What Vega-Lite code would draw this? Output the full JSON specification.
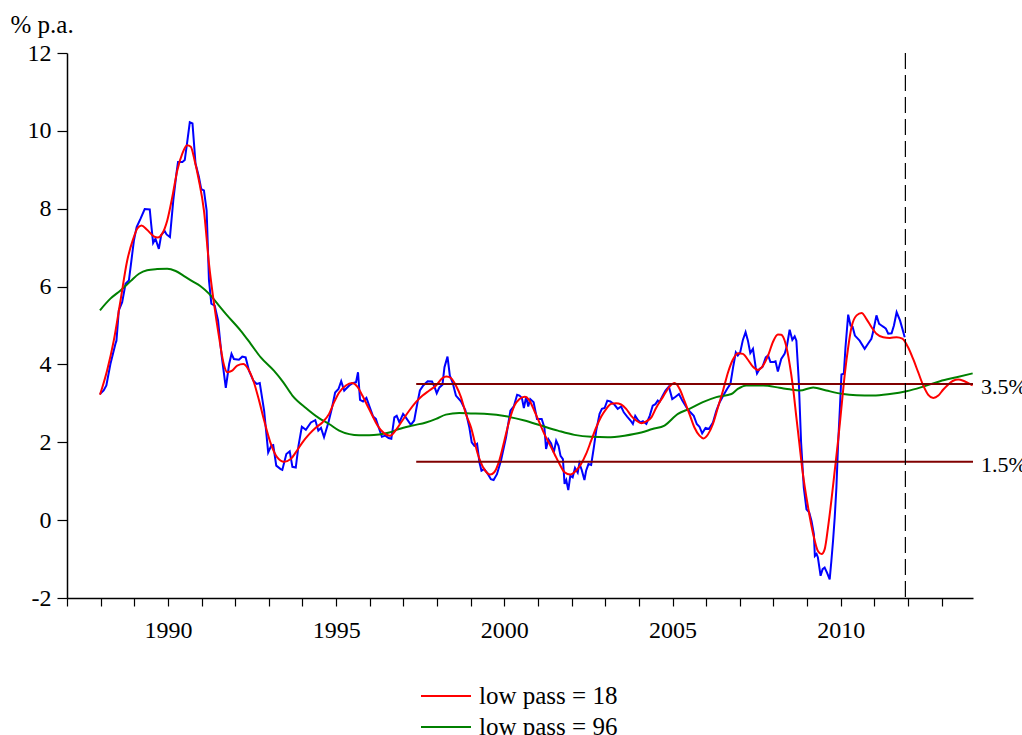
{
  "$schema": "https://vega.github.io/schema/vega-lite/v6.json",
  "width": 906,
  "height": 545,
  "autosize": "none",
  "padding": {"left": 67, "top": 53, "right": 49, "bottom": 137},
  "background": "white",
  "config": {
    "view": {"stroke": null},
    "font": "Liberation Serif",
    "axis": {"grid": false, "domainColor": "black", "tickColor": "black", "labelColor": "black", "labelFont": "Liberation Serif", "titleFont": "Liberation Serif", "domainWidth": 1.5, "tickWidth": 1.2}
  },
  "datasets": {
    "cpi": [
      {"t":1987.98,"v":3.24},{"t":1988.09,"v":3.33},{"t":1988.17,"v":3.46},{"t":1988.29,"v":4.01},{"t":1988.44,"v":4.53},{"t":1988.47,"v":4.61},{"t":1988.54,"v":5.39},{"t":1988.64,"v":5.6},{"t":1988.74,"v":6.07},{"t":1988.84,"v":6.16},{"t":1988.89,"v":6.5},{"t":1988.99,"v":7.19},{"t":1989.07,"v":7.53},{"t":1989.19,"v":7.75},{"t":1989.31,"v":7.99},{"t":1989.46,"v":7.98},{"t":1989.5,"v":7.62},{"t":1989.56,"v":7.12},{"t":1989.63,"v":7.23},{"t":1989.73,"v":6.97},{"t":1989.8,"v":7.32},{"t":1989.9,"v":7.43},{"t":1989.96,"v":7.34},{"t":1990.06,"v":7.27},{"t":1990.16,"v":8.22},{"t":1990.26,"v":8.95},{"t":1990.3,"v":9.2},{"t":1990.43,"v":9.2},{"t":1990.5,"v":9.25},{"t":1990.56,"v":9.63},{"t":1990.65,"v":10.22},{"t":1990.73,"v":10.19},{"t":1990.82,"v":9.16},{"t":1990.92,"v":8.82},{"t":1990.99,"v":8.5},{"t":1991.07,"v":8.47},{"t":1991.15,"v":7.96},{"t":1991.22,"v":6.16},{"t":1991.29,"v":5.56},{"t":1991.39,"v":5.51},{"t":1991.49,"v":5.13},{"t":1991.59,"v":4.27},{"t":1991.72,"v":3.4},{"t":1991.82,"v":4.01},{"t":1991.89,"v":4.27},{"t":1991.96,"v":4.14},{"t":1992.11,"v":4.12},{"t":1992.21,"v":4.2},{"t":1992.31,"v":4.18},{"t":1992.41,"v":3.84},{"t":1992.54,"v":3.58},{"t":1992.64,"v":3.5},{"t":1992.73,"v":3.52},{"t":1992.86,"v":2.81},{"t":1992.98,"v":1.74},{"t":1993.07,"v":1.91},{"t":1993.13,"v":1.93},{"t":1993.22,"v":1.4},{"t":1993.35,"v":1.31},{"t":1993.4,"v":1.29},{"t":1993.52,"v":1.7},{"t":1993.62,"v":1.77},{"t":1993.7,"v":1.37},{"t":1993.8,"v":1.35},{"t":1993.88,"v":1.91},{"t":1993.98,"v":2.4},{"t":1994.1,"v":2.32},{"t":1994.25,"v":2.51},{"t":1994.38,"v":2.57},{"t":1994.47,"v":2.3},{"t":1994.55,"v":2.37},{"t":1994.64,"v":2.13},{"t":1994.77,"v":2.51},{"t":1994.87,"v":2.86},{"t":1994.97,"v":3.28},{"t":1995.07,"v":3.37},{"t":1995.15,"v":3.57},{"t":1995.24,"v":3.33},{"t":1995.39,"v":3.46},{"t":1995.49,"v":3.52},{"t":1995.59,"v":3.54},{"t":1995.65,"v":3.8},{"t":1995.71,"v":3.09},{"t":1995.8,"v":3.05},{"t":1995.9,"v":3.14},{"t":1996.0,"v":2.9},{"t":1996.1,"v":2.66},{"t":1996.18,"v":2.6},{"t":1996.28,"v":2.34},{"t":1996.36,"v":2.14},{"t":1996.46,"v":2.17},{"t":1996.56,"v":2.11},{"t":1996.64,"v":2.09},{"t":1996.73,"v":2.64},{"t":1996.8,"v":2.68},{"t":1996.88,"v":2.51},{"t":1996.99,"v":2.73},{"t":1997.07,"v":2.64},{"t":1997.22,"v":2.45},{"t":1997.32,"v":2.56},{"t":1997.42,"v":3.03},{"t":1997.49,"v":3.33},{"t":1997.59,"v":3.46},{"t":1997.72,"v":3.57},{"t":1997.85,"v":3.56},{"t":1997.93,"v":3.41},{"t":1997.99,"v":3.26},{"t":1998.07,"v":3.41},{"t":1998.16,"v":3.48},{"t":1998.22,"v":3.93},{"t":1998.31,"v":4.2},{"t":1998.38,"v":3.71},{"t":1998.46,"v":3.54},{"t":1998.56,"v":3.2},{"t":1998.71,"v":3.05},{"t":1998.84,"v":2.83},{"t":1998.96,"v":2.38},{"t":1999.03,"v":2.0},{"t":1999.11,"v":1.91},{"t":1999.19,"v":1.96},{"t":1999.26,"v":1.48},{"t":1999.32,"v":1.27},{"t":1999.4,"v":1.31},{"t":1999.5,"v":1.2},{"t":1999.6,"v":1.05},{"t":1999.68,"v":1.03},{"t":1999.78,"v":1.18},{"t":1999.9,"v":1.53},{"t":2000.05,"v":2.13},{"t":2000.18,"v":2.81},{"t":2000.28,"v":2.92},{"t":2000.38,"v":3.22},{"t":2000.45,"v":3.2},{"t":2000.52,"v":3.14},{"t":2000.58,"v":2.88},{"t":2000.65,"v":3.17},{"t":2000.71,"v":2.92},{"t":2000.77,"v":3.11},{"t":2000.87,"v":3.03},{"t":2000.97,"v":2.6},{"t":2001.11,"v":2.6},{"t":2001.19,"v":2.38},{"t":2001.24,"v":1.83},{"t":2001.31,"v":2.08},{"t":2001.39,"v":1.97},{"t":2001.47,"v":1.74},{"t":2001.54,"v":2.04},{"t":2001.61,"v":1.91},{"t":2001.67,"v":1.65},{"t":2001.74,"v":1.57},{"t":2001.79,"v":0.93},{"t":2001.84,"v":1.03},{"t":2001.9,"v":0.77},{"t":2001.96,"v":1.14},{"t":2002.03,"v":1.1},{"t":2002.1,"v":1.34},{"t":2002.18,"v":1.22},{"t":2002.23,"v":1.46},{"t":2002.3,"v":1.29},{"t":2002.38,"v":1.03},{"t":2002.43,"v":1.27},{"t":2002.5,"v":1.44},{"t":2002.58,"v":1.42},{"t":2002.66,"v":1.87},{"t":2002.73,"v":2.3},{"t":2002.83,"v":2.73},{"t":2002.9,"v":2.86},{"t":2002.98,"v":2.88},{"t":2003.06,"v":3.07},{"t":2003.15,"v":3.05},{"t":2003.27,"v":2.97},{"t":2003.37,"v":2.86},{"t":2003.47,"v":2.92},{"t":2003.55,"v":2.77},{"t":2003.65,"v":2.66},{"t":2003.75,"v":2.56},{"t":2003.82,"v":2.47},{"t":2003.89,"v":2.68},{"t":2003.97,"v":2.57},{"t":2004.05,"v":2.51},{"t":2004.12,"v":2.54},{"t":2004.22,"v":2.47},{"t":2004.32,"v":2.68},{"t":2004.41,"v":2.94},{"t":2004.49,"v":2.98},{"t":2004.56,"v":3.07},{"t":2004.61,"v":3.03},{"t":2004.71,"v":3.2},{"t":2004.79,"v":3.33},{"t":2004.89,"v":3.43},{"t":2004.99,"v":3.11},{"t":2005.09,"v":3.17},{"t":2005.19,"v":3.24},{"t":2005.29,"v":3.07},{"t":2005.41,"v":2.9},{"t":2005.53,"v":2.77},{"t":2005.63,"v":2.68},{"t":2005.72,"v":2.47},{"t":2005.8,"v":2.4},{"t":2005.88,"v":2.23},{"t":2005.98,"v":2.37},{"t":2006.08,"v":2.34},{"t":2006.2,"v":2.51},{"t":2006.3,"v":2.81},{"t":2006.4,"v":3.03},{"t":2006.52,"v":3.22},{"t":2006.62,"v":3.37},{"t":2006.72,"v":3.5},{"t":2006.8,"v":3.93},{"t":2006.88,"v":4.31},{"t":2006.94,"v":4.23},{"t":2007.01,"v":4.31},{"t":2007.09,"v":4.63},{"t":2007.17,"v":4.83},{"t":2007.24,"v":4.61},{"t":2007.31,"v":4.29},{"t":2007.39,"v":4.4},{"t":2007.47,"v":3.93},{"t":2007.51,"v":3.77},{"t":2007.59,"v":3.89},{"t":2007.67,"v":3.93},{"t":2007.77,"v":4.18},{"t":2007.84,"v":4.23},{"t":2007.91,"v":4.06},{"t":2007.98,"v":4.06},{"t":2008.06,"v":4.08},{"t":2008.13,"v":3.82},{"t":2008.23,"v":4.14},{"t":2008.33,"v":4.27},{"t":2008.4,"v":4.48},{"t":2008.48,"v":4.89},{"t":2008.56,"v":4.63},{"t":2008.63,"v":4.72},{"t":2008.68,"v":4.61},{"t":2008.75,"v":3.6},{"t":2008.82,"v":2.0},{"t":2008.9,"v":0.84},{"t":2008.98,"v":0.28},{"t":2009.06,"v":0.2},{"t":2009.13,"v":-0.02},{"t":2009.2,"v":-0.36},{"t":2009.23,"v":-0.92},{"t":2009.28,"v":-0.87},{"t":2009.32,"v":-0.96},{"t":2009.4,"v":-1.43},{"t":2009.46,"v":-1.26},{"t":2009.52,"v":-1.22},{"t":2009.59,"v":-1.35},{"t":2009.67,"v":-1.52},{"t":2009.72,"v":-1.05},{"t":2009.77,"v":-0.53},{"t":2009.82,"v":0.07},{"t":2009.87,"v":0.84},{"t":2009.92,"v":1.96},{"t":2009.97,"v":2.81},{"t":2010.02,"v":3.74},{"t":2010.09,"v":3.76},{"t":2010.14,"v":4.44},{"t":2010.22,"v":5.28},{"t":2010.29,"v":5.0},{"t":2010.35,"v":4.97},{"t":2010.42,"v":4.74},{"t":2010.56,"v":4.61},{"t":2010.71,"v":4.4},{"t":2010.81,"v":4.53},{"t":2010.91,"v":4.66},{"t":2010.96,"v":4.83},{"t":2011.06,"v":5.26},{"t":2011.14,"v":5.04},{"t":2011.21,"v":5.0},{"t":2011.28,"v":4.96},{"t":2011.34,"v":4.92},{"t":2011.41,"v":4.79},{"t":2011.51,"v":4.8},{"t":2011.58,"v":5.0},{"t":2011.66,"v":5.34},{"t":2011.76,"v":5.13},{"t":2011.83,"v":4.92},{"t":2011.9,"v":4.7}
    ],
    "lp": [
      {"s":"low pass = 96","t":1987.98,"v":5.39},{"s":"low pass = 96","t":1988.29,"v":5.69},{"s":"low pass = 96","t":1988.59,"v":5.9},{"s":"low pass = 96","t":1988.89,"v":6.14},{"s":"low pass = 96","t":1989.14,"v":6.33},{"s":"low pass = 96","t":1989.38,"v":6.42},{"s":"low pass = 96","t":1989.68,"v":6.45},{"s":"low pass = 96","t":1989.98,"v":6.46},{"s":"low pass = 96","t":1990.23,"v":6.4},{"s":"low pass = 96","t":1990.48,"v":6.27},{"s":"low pass = 96","t":1990.72,"v":6.14},{"s":"low pass = 96","t":1990.97,"v":6.01},{"s":"low pass = 96","t":1991.22,"v":5.82},{"s":"low pass = 96","t":1991.47,"v":5.56},{"s":"low pass = 96","t":1991.76,"v":5.26},{"s":"low pass = 96","t":1992.16,"v":4.87},{"s":"low pass = 96","t":1992.46,"v":4.53},{"s":"low pass = 96","t":1992.76,"v":4.18},{"s":"low pass = 96","t":1993.15,"v":3.84},{"s":"low pass = 96","t":1993.43,"v":3.54},{"s":"low pass = 96","t":1993.7,"v":3.2},{"s":"low pass = 96","t":1994.1,"v":2.88},{"s":"low pass = 96","t":1994.49,"v":2.62},{"s":"low pass = 96","t":1994.79,"v":2.47},{"s":"low pass = 96","t":1995.09,"v":2.3},{"s":"low pass = 96","t":1995.39,"v":2.21},{"s":"low pass = 96","t":1995.68,"v":2.18},{"s":"low pass = 96","t":1995.98,"v":2.18},{"s":"low pass = 96","t":1996.28,"v":2.2},{"s":"low pass = 96","t":1996.58,"v":2.25},{"s":"low pass = 96","t":1996.87,"v":2.34},{"s":"low pass = 96","t":1997.27,"v":2.43},{"s":"low pass = 96","t":1997.67,"v":2.51},{"s":"low pass = 96","t":1997.97,"v":2.6},{"s":"low pass = 96","t":1998.26,"v":2.71},{"s":"low pass = 96","t":1998.66,"v":2.75},{"s":"low pass = 96","t":1999.0,"v":2.74},{"s":"low pass = 96","t":1999.4,"v":2.73},{"s":"low pass = 96","t":2000.1,"v":2.66},{"s":"low pass = 96","t":2000.6,"v":2.56},{"s":"low pass = 96","t":2001.09,"v":2.43},{"s":"low pass = 96","t":2001.59,"v":2.3},{"s":"low pass = 96","t":2002.08,"v":2.19},{"s":"low pass = 96","t":2002.58,"v":2.14},{"s":"low pass = 96","t":2003.07,"v":2.13},{"s":"low pass = 96","t":2003.57,"v":2.17},{"s":"low pass = 96","t":2004.07,"v":2.25},{"s":"low pass = 96","t":2004.4,"v":2.34},{"s":"low pass = 96","t":2004.76,"v":2.43},{"s":"low pass = 96","t":2005.16,"v":2.73},{"s":"low pass = 96","t":2005.5,"v":2.86},{"s":"low pass = 96","t":2005.9,"v":3.03},{"s":"low pass = 96","t":2006.3,"v":3.16},{"s":"low pass = 96","t":2006.75,"v":3.24},{"s":"low pass = 96","t":2006.94,"v":3.37},{"s":"low pass = 96","t":2007.19,"v":3.46},{"s":"low pass = 96","t":2007.69,"v":3.46},{"s":"low pass = 96","t":2008.18,"v":3.4},{"s":"low pass = 96","t":2008.48,"v":3.36},{"s":"low pass = 96","t":2008.78,"v":3.33},{"s":"low pass = 96","t":2009.18,"v":3.41},{"s":"low pass = 96","t":2009.57,"v":3.33},{"s":"low pass = 96","t":2010.07,"v":3.24},{"s":"low pass = 96","t":2010.47,"v":3.21},{"s":"low pass = 96","t":2010.96,"v":3.2},{"s":"low pass = 96","t":2011.46,"v":3.24},{"s":"low pass = 96","t":2011.95,"v":3.31},{"s":"low pass = 96","t":2012.45,"v":3.43},{"s":"low pass = 96","t":2012.95,"v":3.57},{"s":"low pass = 96","t":2013.44,"v":3.67},{"s":"low pass = 96","t":2013.92,"v":3.77},
      {"s":"low pass = 18","t":1987.98,"v":3.22},{"s":"low pass = 18","t":1988.19,"v":3.84},{"s":"low pass = 18","t":1988.39,"v":4.61},{"s":"low pass = 18","t":1988.59,"v":5.64},{"s":"low pass = 18","t":1988.79,"v":6.67},{"s":"low pass = 18","t":1988.97,"v":7.23},{"s":"low pass = 18","t":1989.09,"v":7.49},{"s":"low pass = 18","t":1989.21,"v":7.57},{"s":"low pass = 18","t":1989.38,"v":7.46},{"s":"low pass = 18","t":1989.58,"v":7.29},{"s":"low pass = 18","t":1989.7,"v":7.26},{"s":"low pass = 18","t":1989.83,"v":7.36},{"s":"low pass = 18","t":1989.98,"v":7.7},{"s":"low pass = 18","t":1990.13,"v":8.3},{"s":"low pass = 18","t":1990.28,"v":8.99},{"s":"low pass = 18","t":1990.43,"v":9.42},{"s":"low pass = 18","t":1990.57,"v":9.63},{"s":"low pass = 18","t":1990.68,"v":9.59},{"s":"low pass = 18","t":1990.79,"v":9.25},{"s":"low pass = 18","t":1990.92,"v":8.73},{"s":"low pass = 18","t":1991.07,"v":7.96},{"s":"low pass = 18","t":1991.22,"v":6.59},{"s":"low pass = 18","t":1991.37,"v":5.56},{"s":"low pass = 18","t":1991.52,"v":4.7},{"s":"low pass = 18","t":1991.67,"v":3.97},{"s":"low pass = 18","t":1991.76,"v":3.8},{"s":"low pass = 18","t":1991.91,"v":3.84},{"s":"low pass = 18","t":1992.06,"v":3.97},{"s":"low pass = 18","t":1992.24,"v":4.01},{"s":"low pass = 18","t":1992.38,"v":3.89},{"s":"low pass = 18","t":1992.54,"v":3.58},{"s":"low pass = 18","t":1992.71,"v":3.07},{"s":"low pass = 18","t":1992.86,"v":2.56},{"s":"low pass = 18","t":1993.06,"v":1.96},{"s":"low pass = 18","t":1993.25,"v":1.61},{"s":"low pass = 18","t":1993.45,"v":1.5},{"s":"low pass = 18","t":1993.65,"v":1.57},{"s":"low pass = 18","t":1993.8,"v":1.74},{"s":"low pass = 18","t":1994.0,"v":2.0},{"s":"low pass = 18","t":1994.2,"v":2.21},{"s":"low pass = 18","t":1994.4,"v":2.38},{"s":"low pass = 18","t":1994.59,"v":2.51},{"s":"low pass = 18","t":1994.79,"v":2.73},{"s":"low pass = 18","t":1994.94,"v":3.03},{"s":"low pass = 18","t":1995.09,"v":3.28},{"s":"low pass = 18","t":1995.29,"v":3.46},{"s":"low pass = 18","t":1995.47,"v":3.52},{"s":"low pass = 18","t":1995.63,"v":3.43},{"s":"low pass = 18","t":1995.78,"v":3.2},{"s":"low pass = 18","t":1995.93,"v":2.94},{"s":"low pass = 18","t":1996.08,"v":2.68},{"s":"low pass = 18","t":1996.23,"v":2.43},{"s":"low pass = 18","t":1996.43,"v":2.23},{"s":"low pass = 18","t":1996.6,"v":2.17},{"s":"low pass = 18","t":1996.78,"v":2.32},{"s":"low pass = 18","t":1996.97,"v":2.56},{"s":"low pass = 18","t":1997.17,"v":2.81},{"s":"low pass = 18","t":1997.37,"v":3.03},{"s":"low pass = 18","t":1997.57,"v":3.2},{"s":"low pass = 18","t":1997.77,"v":3.33},{"s":"low pass = 18","t":1997.97,"v":3.46},{"s":"low pass = 18","t":1998.16,"v":3.65},{"s":"low pass = 18","t":1998.28,"v":3.69},{"s":"low pass = 18","t":1998.41,"v":3.65},{"s":"low pass = 18","t":1998.56,"v":3.46},{"s":"low pass = 18","t":1998.71,"v":3.16},{"s":"low pass = 18","t":1998.86,"v":2.72},{"s":"low pass = 18","t":1999.01,"v":2.38},{"s":"low pass = 18","t":1999.21,"v":1.7},{"s":"low pass = 18","t":1999.4,"v":1.31},{"s":"low pass = 18","t":1999.58,"v":1.17},{"s":"low pass = 18","t":1999.7,"v":1.23},{"s":"low pass = 18","t":1999.85,"v":1.53},{"s":"low pass = 18","t":2000.0,"v":2.04},{"s":"low pass = 18","t":2000.15,"v":2.56},{"s":"low pass = 18","t":2000.3,"v":2.94},{"s":"low pass = 18","t":2000.45,"v":3.11},{"s":"low pass = 18","t":2000.6,"v":3.17},{"s":"low pass = 18","t":2000.75,"v":3.07},{"s":"low pass = 18","t":2000.89,"v":2.81},{"s":"low pass = 18","t":2001.04,"v":2.51},{"s":"low pass = 18","t":2001.19,"v":2.21},{"s":"low pass = 18","t":2001.34,"v":1.96},{"s":"low pass = 18","t":2001.49,"v":1.7},{"s":"low pass = 18","t":2001.64,"v":1.44},{"s":"low pass = 18","t":2001.79,"v":1.23},{"s":"low pass = 18","t":2001.96,"v":1.17},{"s":"low pass = 18","t":2002.13,"v":1.27},{"s":"low pass = 18","t":2002.28,"v":1.44},{"s":"low pass = 18","t":2002.43,"v":1.7},{"s":"low pass = 18","t":2002.58,"v":2.04},{"s":"low pass = 18","t":2002.73,"v":2.38},{"s":"low pass = 18","t":2002.88,"v":2.66},{"s":"low pass = 18","t":2003.03,"v":2.86},{"s":"low pass = 18","t":2003.18,"v":2.99},{"s":"low pass = 18","t":2003.32,"v":3.0},{"s":"low pass = 18","t":2003.47,"v":2.97},{"s":"low pass = 18","t":2003.62,"v":2.86},{"s":"low pass = 18","t":2003.77,"v":2.68},{"s":"low pass = 18","t":2003.92,"v":2.56},{"s":"low pass = 18","t":2004.07,"v":2.49},{"s":"low pass = 18","t":2004.22,"v":2.54},{"s":"low pass = 18","t":2004.37,"v":2.64},{"s":"low pass = 18","t":2004.51,"v":2.88},{"s":"low pass = 18","t":2004.71,"v":3.16},{"s":"low pass = 18","t":2004.91,"v":3.43},{"s":"low pass = 18","t":2005.06,"v":3.52},{"s":"low pass = 18","t":2005.21,"v":3.37},{"s":"low pass = 18","t":2005.35,"v":3.07},{"s":"low pass = 18","t":2005.5,"v":2.73},{"s":"low pass = 18","t":2005.65,"v":2.38},{"s":"low pass = 18","t":2005.8,"v":2.17},{"s":"low pass = 18","t":2005.92,"v":2.1},{"s":"low pass = 18","t":2006.05,"v":2.2},{"s":"low pass = 18","t":2006.2,"v":2.47},{"s":"low pass = 18","t":2006.35,"v":2.9},{"s":"low pass = 18","t":2006.5,"v":3.33},{"s":"low pass = 18","t":2006.65,"v":3.8},{"s":"low pass = 18","t":2006.79,"v":4.12},{"s":"low pass = 18","t":2006.94,"v":4.29},{"s":"low pass = 18","t":2007.09,"v":4.27},{"s":"low pass = 18","t":2007.24,"v":4.12},{"s":"low pass = 18","t":2007.39,"v":3.94},{"s":"low pass = 18","t":2007.54,"v":3.86},{"s":"low pass = 18","t":2007.69,"v":3.97},{"s":"low pass = 18","t":2007.84,"v":4.23},{"s":"low pass = 18","t":2007.98,"v":4.57},{"s":"low pass = 18","t":2008.13,"v":4.77},{"s":"low pass = 18","t":2008.23,"v":4.76},{"s":"low pass = 18","t":2008.36,"v":4.53},{"s":"low pass = 18","t":2008.48,"v":4.01},{"s":"low pass = 18","t":2008.58,"v":3.41},{"s":"low pass = 18","t":2008.68,"v":2.64},{"s":"low pass = 18","t":2008.77,"v":1.96},{"s":"low pass = 18","t":2008.85,"v":1.35},{"s":"low pass = 18","t":2009.03,"v":0.32},{"s":"low pass = 18","t":2009.18,"v":-0.36},{"s":"low pass = 18","t":2009.32,"v":-0.79},{"s":"low pass = 18","t":2009.43,"v":-0.87},{"s":"low pass = 18","t":2009.52,"v":-0.75},{"s":"low pass = 18","t":2009.62,"v":-0.19},{"s":"low pass = 18","t":2009.72,"v":0.5},{"s":"low pass = 18","t":2009.82,"v":1.27},{"s":"low pass = 18","t":2009.92,"v":2.04},{"s":"low pass = 18","t":2010.02,"v":2.9},{"s":"low pass = 18","t":2010.12,"v":3.76},{"s":"low pass = 18","t":2010.22,"v":4.44},{"s":"low pass = 18","t":2010.32,"v":4.96},{"s":"low pass = 18","t":2010.47,"v":5.26},{"s":"low pass = 18","t":2010.62,"v":5.32},{"s":"low pass = 18","t":2010.76,"v":5.17},{"s":"low pass = 18","t":2010.91,"v":4.96},{"s":"low pass = 18","t":2011.06,"v":4.79},{"s":"low pass = 18","t":2011.26,"v":4.7},{"s":"low pass = 18","t":2011.46,"v":4.68},{"s":"low pass = 18","t":2011.66,"v":4.7},{"s":"low pass = 18","t":2011.83,"v":4.66},{"s":"low pass = 18","t":2012.0,"v":4.44},{"s":"low pass = 18","t":2012.15,"v":4.14},{"s":"low pass = 18","t":2012.3,"v":3.8},{"s":"low pass = 18","t":2012.45,"v":3.46},{"s":"low pass = 18","t":2012.6,"v":3.22},{"s":"low pass = 18","t":2012.75,"v":3.14},{"s":"low pass = 18","t":2012.9,"v":3.2},{"s":"low pass = 18","t":2013.04,"v":3.35},{"s":"low pass = 18","t":2013.19,"v":3.48},{"s":"low pass = 18","t":2013.34,"v":3.58},{"s":"low pass = 18","t":2013.49,"v":3.61},{"s":"low pass = 18","t":2013.64,"v":3.58},{"s":"low pass = 18","t":2013.79,"v":3.52},{"s":"low pass = 18","t":2013.92,"v":3.46}
    ],
    "band": [
      {"x1": 1997.38, "x2": 2013.93, "y": 3.5, "label": "3.5%"},
      {"x1": 1997.38, "x2": 2013.93, "y": 1.5, "label": "1.5%"}
    ],
    "vline": [{"t": 2011.92}]
  },
  "layer": [
    {
      "data": {"name": "cpi"},
      "mark": {"type": "line", "color": "#0000ff", "strokeWidth": 2},
      "encoding": {
        "x": {"field": "t", "type": "quantitative", "scale": {"domain": [1987, 2013.93], "nice": false, "zero": false},
          "axis": {"title": null, "values": [1987,1988,1989,1990,1991,1992,1993,1994,1995,1996,1997,1998,1999,2000,2001,2002,2003,2004,2005,2006,2007,2008,2009,2010,2011,2012,2013],
            "tickCount": 100, "labelExpr": "datum.value % 5 == 0 ? '' + datum.value : ''", "labelFontSize": 24, "tickSize": 8, "labelPadding": 12, "labelFlush": false, "labelOverlap": false}},
        "y": {"field": "v", "type": "quantitative", "scale": {"domain": [-2, 12], "nice": false, "zero": false},
          "axis": {"title": "% p.a.", "values": [-2,0,2,4,6,8,10,12], "tickCount": 100, "labelExpr": "'' + datum.value", "labelFontSize": 24, "tickSize": 10, "labelPadding": 6, "labelOverlap": false,
            "titleAngle": 0, "titleAlign": "left", "titleBaseline": "alphabetic", "titleX": -57, "titleY": -21, "titleFontSize": 25, "titleFontWeight": "normal", "titleColor": "black"}}
      }
    },
    {
      "data": {"name": "lp"},
      "mark": {"type": "line", "strokeWidth": 2, "interpolate": "monotone"},
      "encoding": {
        "x": {"field": "t", "type": "quantitative"},
        "y": {"field": "v", "type": "quantitative"},
        "color": {"field": "s", "type": "nominal",
          "scale": {"domain": ["low pass = 18", "low pass = 96"], "range": ["#ff0000", "#008000"]},
          "legend": {"title": null, "orient": "none", "legendX": 353, "legendY": 631, "direction": "vertical", "padding": 0,
            "symbolType": "stroke", "symbolSize": 2500, "symbolStrokeWidth": 2, "clipHeight": 24, "rowPadding": 6,
            "labelFont": "Liberation Serif", "labelFontSize": 25, "labelColor": "black", "labelOffset": 7}}
      }
    },
    {
      "data": {"name": "band"},
      "mark": {"type": "rule", "color": "#800000", "strokeWidth": 2},
      "encoding": {
        "x": {"field": "x1", "type": "quantitative"},
        "x2": {"field": "x2"},
        "y": {"field": "y", "type": "quantitative"}
      }
    },
    {
      "data": {"name": "band"},
      "mark": {"type": "text", "align": "left", "baseline": "middle", "dx": 8, "dy": 3, "font": "Liberation Serif", "fontSize": 22, "color": "black"},
      "encoding": {
        "x": {"field": "x2", "type": "quantitative"},
        "y": {"field": "y", "type": "quantitative"},
        "text": {"field": "label"}
      }
    },
    {
      "data": {"name": "vline"},
      "mark": {"type": "rule", "color": "black", "strokeWidth": 1.2, "strokeDash": [16, 6]},
      "encoding": {
        "x": {"field": "t", "type": "quantitative"}
      }
    }
  ]
}
